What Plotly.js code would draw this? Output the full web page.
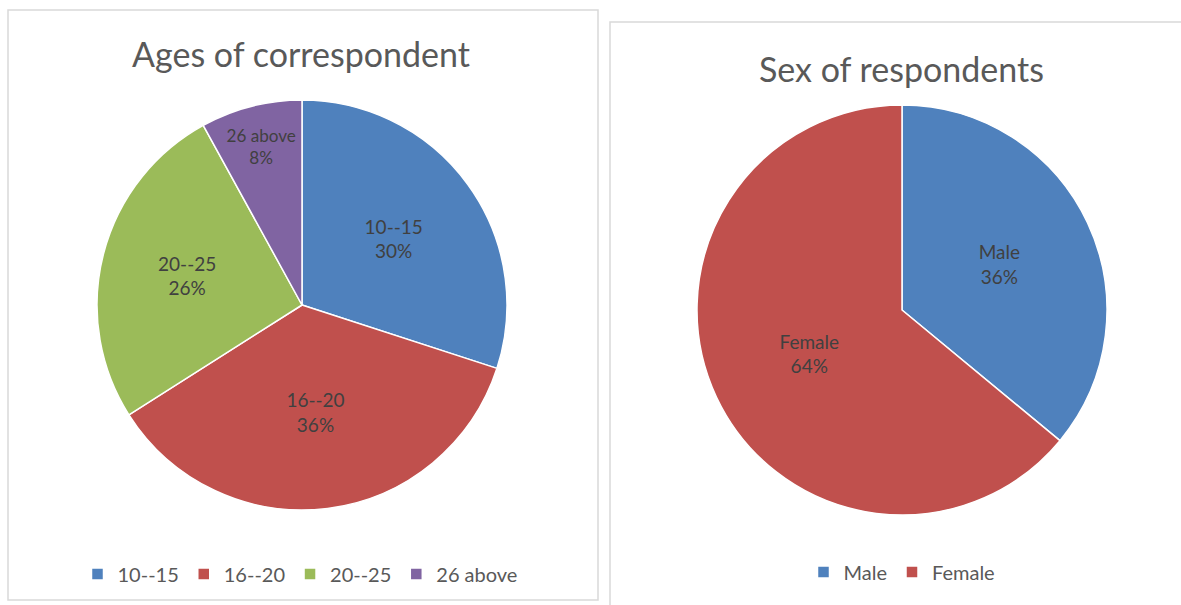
<!DOCTYPE html>
<html>
<head>
<meta charset="utf-8">
<script src="https://cdn.plot.ly/plotly-3.0.1.min.js"></script>
<style>
html,body{margin:0;padding:0;background:#fff;}
#chart{width:1181px;height:605px;}
</style>
</head>
<body>
<div id="chart"></div>
<script>
// Data
const ageLabels = ["10--15", "16--20", "20--25", "26 above"];
const ageValues = [30, 36, 26, 8];
const sexLabels = ["Male", "Female"];
const sexValues = [36, 64];
const ageTitle = "Ages of correspondent";
const sexTitle = "Sex of respondents";

const ageColors = ["#4F81BD", "#C0504D", "#9BBB59", "#8064A2"];
const sexColors = ["#4F81BD", "#C0504D"];

const W = 1181, H = 605;
const FONT = "Lato, 'Open Sans', sans-serif";
function px(x){return x/W;}
function py(y){return 1 - y/H;}
function dom(cx, cy, r){
  return {x:[px(cx-r), px(cx+r)], y:[py(cy+r), py(cy-r)]};
}

const common = {
  type: "pie",
  sort: false,
  direction: "clockwise",
  rotation: 0,
  textposition: "inside",
  insidetextorientation: "horizontal",
  texttemplate: "%{label}<br>%{percent:.0%}",
  textfont: {family: FONT, size: 19, color: "#404040"},
  hoverinfo: "label+percent",
  showlegend: true
};

const traces = [
  Object.assign({}, common, {
    labels: ageLabels, values: ageValues,
    marker: {colors: ageColors, line: {color: "#ffffff", width: 1.5}},
    domain: dom(302, 305, 205),
    legend: "legend"
  }),
  Object.assign({}, common, {
    labels: sexLabels, values: sexValues,
    marker: {colors: sexColors, line: {color: "#ffffff", width: 1.5}},
    domain: dom(902, 310, 205),
    legend: "legend2"
  })
];

const legendCommon = {
  orientation: "h",
  xanchor: "center",
  yanchor: "middle",
  font: {family: FONT, size: 20, color: "#595959"},
  bgcolor: "rgba(0,0,0,0)",
  itemclick: false
};

const layout = {
  width: W, height: H,
  margin: {l:0, r:0, t:0, b:0},
  paper_bgcolor: "#ffffff",
  font: {family: FONT},
  legend: Object.assign({}, legendCommon, {x: px(300), y: py(574)}),
  legend2: Object.assign({}, legendCommon, {x: px(902), y: py(572)}),
  annotations: [
    {text: ageTitle, xref: "paper", yref: "paper", x: px(301), y: py(53),
     xanchor: "center", yanchor: "middle", showarrow: false,
     font: {family: FONT, size: 34, color: "#595959"}},
    {text: sexTitle, xref: "paper", yref: "paper", x: px(901), y: py(68),
     xanchor: "center", yanchor: "middle", showarrow: false,
     font: {family: FONT, size: 34, color: "#595959"}}
  ],
  shapes: [
    {type: "rect", xref: "paper", yref: "paper",
     x0: px(8), x1: px(598), y0: py(600), y1: py(10),
     line: {color: "#D9D9D9", width: 1.5}, layer: "below"},
    {type: "rect", xref: "paper", yref: "paper",
     x0: px(610), x1: px(1185), y0: py(610), y1: py(22),
     line: {color: "#D9D9D9", width: 1.5}, layer: "below"}
  ]
};

Plotly.newPlot("chart", traces, layout, {displayModeBar: false, staticPlot: true});
</script>
</body>
</html>
